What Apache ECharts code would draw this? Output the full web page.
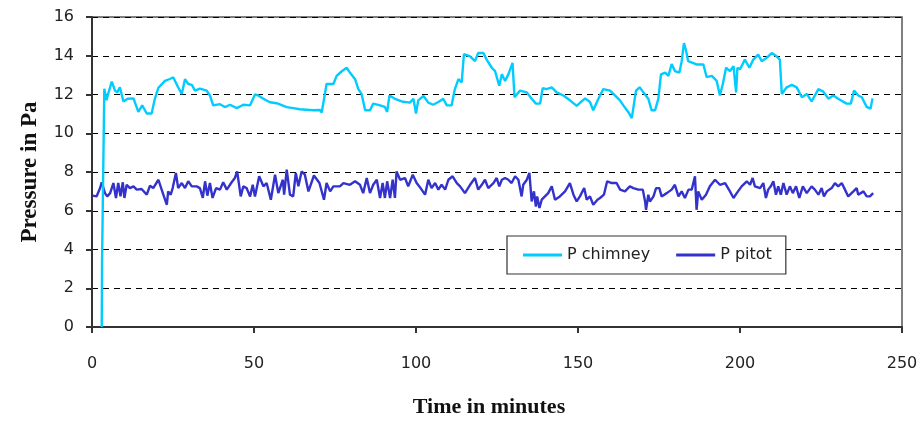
<!DOCTYPE html>
<html>
<head>
<meta charset="utf-8">
<script src="https://cdn.jsdelivr.net/npm/echarts@6/dist/echarts.min.js"></script>
<style>html,body{margin:0;padding:0;background:#fff}#c{width:924px;height:423px}</style>
</head>
<body>
<div id="c"></div>
<script>
var seriesNames = ['P chimney', 'P pitot'];
var xTicks = [0, 50, 100, 150, 200, 250];
var yTicks = [0, 2, 4, 6, 8, 10, 12, 14, 16];

var chimneyTime = [3.0,3.1,3.5,3.8,4.0,4.5,5.1,6.1,7.1,7.8,8.6,9.7,11.0,12.8,14.3,15.5,16.9,18.4,19.4,20.5,22.5,24.0,25.1,26.5,27.7,28.7,29.7,30.8,31.8,33.3,35.4,36.4,37.4,39.5,41,42.6,44.7,46.7,48.8,50.3,51.3,52.9,54.9,57,60.1,62.1,64.2,68.3,70.4,70.9,72.4,74.5,75.5,77.1,78.6,79.6,81.2,82.2,83.2,84.3,85.8,86.8,88.9,90.4,91.1,91.8,93.5,95.6,98.1,99.2,100,100.7,102.3,103.8,105.3,106.9,108.4,109.5,111,112,113.1,114.1,114.8,116.7,118.2,119.2,120.8,121.8,123.4,124.4,125.7,126.5,127.5,128.5,129.8,130.4,132.1,134.2,135.7,137,138.3,139.1,140.3,141.9,143.4,145.5,147.5,149.6,151.1,152.2,153.7,154.7,156.3,157.8,159.9,161.4,162.96,164,165.5,166.6,167.9,169,170.2,171.7,172.7,173.8,174.8,175.6,176.9,177.9,178.9,179.9,181.3,182,182.7,183.3,184,186.6,188.7,189.7,191.3,192.8,193.8,194.7,195.7,196.9,198,198.8,199.2,200,201.5,202.9,204.1,205.6,206.7,208.2,209.8,211.3,212.3,212.9,214.4,216,217.5,219.1,220.6,222.1,224.2,225.7,227.3,228.8,230.3,232.9,234.2,235.2,236.5,237.6,239.1,240.3,240.9];
var chimneyVal = [0,3.35,3.4,12.3,12.39,11.7,12.1,12.66,12.2,12.11,12.37,11.64,11.78,11.8,11.1,11.44,11.02,11.02,11.78,12.35,12.7,12.8,12.88,12.4,12.03,12.79,12.54,12.5,12.2,12.3,12.2,11.95,11.44,11.5,11.35,11.47,11.3,11.47,11.44,12.0,11.95,11.78,11.6,11.55,11.35,11.3,11.24,11.19,11.2,11.07,12.54,12.54,12.96,13.2,13.38,13.13,12.79,12.28,12.03,11.19,11.19,11.53,11.44,11.36,11.1,11.95,11.78,11.64,11.58,11.78,11.02,11.7,11.92,11.58,11.47,11.61,11.78,11.44,11.44,12.28,12.79,12.62,14.09,13.97,13.72,14.14,14.14,13.8,13.38,13.21,12.45,13.04,12.7,13.04,13.63,11.86,12.2,12.11,11.78,11.53,11.53,12.33,12.28,12.37,12.11,11.95,11.7,11.41,11.64,11.8,11.61,11.19,11.78,12.28,12.2,11.95,11.7,11.44,11.1,10.78,12.2,12.37,12.11,11.78,11.19,11.19,11.78,13.04,13.13,12.96,13.57,13.21,13.13,13.72,14.65,14.31,13.72,13.55,13.55,12.9,12.96,12.7,11.95,12.54,13.38,13.21,13.46,12.11,13.38,13.3,13.8,13.38,13.8,14.06,13.72,13.89,14.14,13.97,13.8,12.03,12.37,12.5,12.37,11.86,12.03,11.64,12.28,12.15,11.78,11.95,11.78,11.53,11.53,12.2,11.95,11.86,11.36,11.27,11.8];

var pitotTime = [0.2,1.4,2.5,3.0,4.0,4.7,5.6,6.6,7.4,8.1,8.8,9.5,10,10.7,11.7,12.8,13.8,15.3,16.9,17.9,18.9,20.5,21.5,22.2,23.1,23.5,24.3,24.9,25.9,26.6,27.7,28.7,29.7,30.8,32.3,33.3,34.2,34.9,35.6,36.4,37.2,38.3,39.5,40.5,41.6,43.1,44.1,44.8,45.9,46.7,47.7,48.8,49.6,50.3,51.6,52.9,53.9,55.2,56.5,57.5,58.9,59.3,60.1,61.1,62.1,62.9,63.7,64.7,65.7,66.8,68.5,70.2,71.6,72.4,73.5,74.5,76.5,77.6,79.6,81.2,82.7,83.7,84.8,85.8,86.8,87.9,88.9,89.7,90.4,91.1,92,92.8,93.5,94,95.1,96.6,97.6,99,100.2,101.4,102.8,103.8,104.8,105.9,106.9,107.9,109,110,111.3,112.6,113.6,115.1,116.7,118.2,119.2,120.3,121.3,122.3,123.9,124.9,125.7,126.5,127.5,128.5,129.5,130.6,131.6,132.6,133.1,134.2,135,135.7,136.4,137,137.4,138.1,138.8,139.8,140.8,141.9,142.9,144.4,146,147.5,148.6,149.6,150.6,151.9,152.7,153.7,154.7,156,156.8,158,159,160.4,161.9,163,164.5,166,167.1,168.6,170,170.7,171,171.7,172.2,173.3,174.1,175.1,175.8,177.4,178.9,179.9,181,182,183,184.1,185.1,186.1,186.6,187.1,188.2,189.5,190.7,192.3,193.8,195.4,196.9,198,199,200.5,202.1,203.1,203.9,204.6,206.2,207.2,208,208.7,209.5,210.3,211.1,211.8,212.6,213.4,214.4,215.4,216.3,217.3,218.3,219.4,220.6,222.1,223.1,224.2,225.2,225.9,226.8,228.3,229.3,230.3,231.4,232.4,233.4,235,236,236.5,238.1,239.1,240.1,241.1];
var pitotVal = [6.78,6.74,7.17,7.47,6.91,6.74,6.91,7.43,6.66,7.43,6.74,7.47,6.66,7.34,7.17,7.26,7.09,7.12,6.83,7.29,7.17,7.6,7.09,6.74,6.31,7.0,6.83,7.17,7.95,7.17,7.43,7.17,7.52,7.26,7.26,7.17,6.66,7.52,6.78,7.43,6.66,7.17,7.09,7.47,7.09,7.47,7.69,8.03,6.74,7.26,7.17,6.74,7.34,6.74,7.78,7.26,7.43,6.57,7.86,6.91,7.6,6.83,8.12,6.83,6.74,7.95,7.26,8.03,7.86,7.0,7.82,7.43,6.57,7.43,7.0,7.26,7.26,7.43,7.34,7.52,7.34,6.91,7.69,6.91,7.34,7.6,6.66,7.43,6.66,7.52,6.66,7.6,6.66,8.03,7.6,7.69,7.26,7.86,7.43,7.17,6.83,7.6,7.17,7.43,7.09,7.34,7.09,7.6,7.78,7.43,7.26,6.91,7.34,7.69,7.09,7.34,7.6,7.17,7.43,7.69,7.26,7.6,7.69,7.6,7.43,7.78,7.6,6.74,7.34,7.6,7.95,6.48,7.0,6.22,6.74,6.14,6.57,6.74,6.91,7.26,6.57,6.74,7.0,7.43,6.83,6.48,6.74,7.17,6.57,6.74,6.31,6.57,6.66,6.83,7.52,7.43,7.43,7.09,7.0,7.26,7.17,7.09,7.09,6.48,6.05,6.83,6.48,6.74,7.17,7.17,6.74,6.91,7.09,7.34,6.74,7.0,6.66,7.09,7.09,7.78,6.05,7.0,6.57,6.83,7.26,7.6,7.34,7.43,7.0,6.66,6.91,7.26,7.52,7.34,7.69,7.26,7.17,7.43,6.66,7.09,7.26,7.52,6.83,7.26,6.83,7.43,6.83,7.26,6.91,7.26,6.66,7.26,6.91,7.26,7.09,6.83,7.17,6.74,7.0,7.17,7.43,7.26,7.43,7.09,6.74,7.0,7.17,6.83,7.0,6.74,6.74,6.91];

function pairs(t, v) { return t.map(function (x, i) { return [x, v[i]]; }); }

var chart = echarts.init(document.getElementById('c'), null, {renderer: 'canvas'});
var tickFont = {fontFamily: 'DejaVu Sans', fontSize: 16, color: '#222'};
chart.setOption({
  animation: false,
  backgroundColor: '#fff',
  grid: {left: 92, right: 22, top: 17, bottom: 91, show: true, borderColor: '#555', borderWidth: 1.5, backgroundColor: 'transparent'},
  legend: {
    data: seriesNames, left: 507, top: 236, icon: 'rect',
    padding: [11, 14, 11, 16], itemGap: 26, itemWidth: 39, itemHeight: 3,
    backgroundColor: '#fff', borderColor: '#333', borderWidth: 1.2, borderRadius: 0,
    textStyle: {fontFamily: 'DejaVu Sans', fontSize: 16, color: '#222', lineHeight: 14}
  },
  xAxis: {
    type: 'value', min: xTicks[0], max: xTicks[xTicks.length - 1], interval: 50,
    name: 'Time in minutes', nameLocation: 'middle', nameGap: 69,
    nameTextStyle: {fontFamily: 'Liberation Serif', fontWeight: 'bold', fontSize: 22, color: '#111', padding: [0, 16, 0, 0]},
    axisLine: {show: true, onZero: false, lineStyle: {color: '#333', width: 2}},
    axisTick: {show: true, inside: false, length: 6, lineStyle: {color: '#333', width: 2}},
    axisLabel: Object.assign({margin: 29}, tickFont),
    splitLine: {show: false}
  },
  yAxis: {
    type: 'value', min: yTicks[0], max: yTicks[yTicks.length - 1], interval: 2,
    name: 'Pressure in Pa', nameLocation: 'middle', nameGap: 50,
    nameTextStyle: {fontFamily: 'Liberation Serif', fontWeight: 'bold', fontSize: 23, color: '#111'},
    axisLine: {show: true, lineStyle: {color: '#333', width: 2}},
    axisTick: {show: true, inside: false, length: 6, lineStyle: {color: '#333', width: 2}},
    axisLabel: Object.assign({margin: 18}, tickFont),
    splitLine: {show: true, lineStyle: {color: '#000', width: 1, type: [6, 5]}}
  },
  series: [
    {name: seriesNames[0], type: 'line', data: pairs(chimneyTime, chimneyVal), symbol: 'none', showSymbol: false,
     lineStyle: {color: '#00CCFF', width: 2.4}, itemStyle: {color: '#00CCFF'}, z: 3},
    {name: seriesNames[1], type: 'line', data: pairs(pitotTime, pitotVal), symbol: 'none', showSymbol: false,
     lineStyle: {color: '#3333CC', width: 2.4}, itemStyle: {color: '#3333CC'}, z: 2}
  ]
});
</script>
</body>
</html>
